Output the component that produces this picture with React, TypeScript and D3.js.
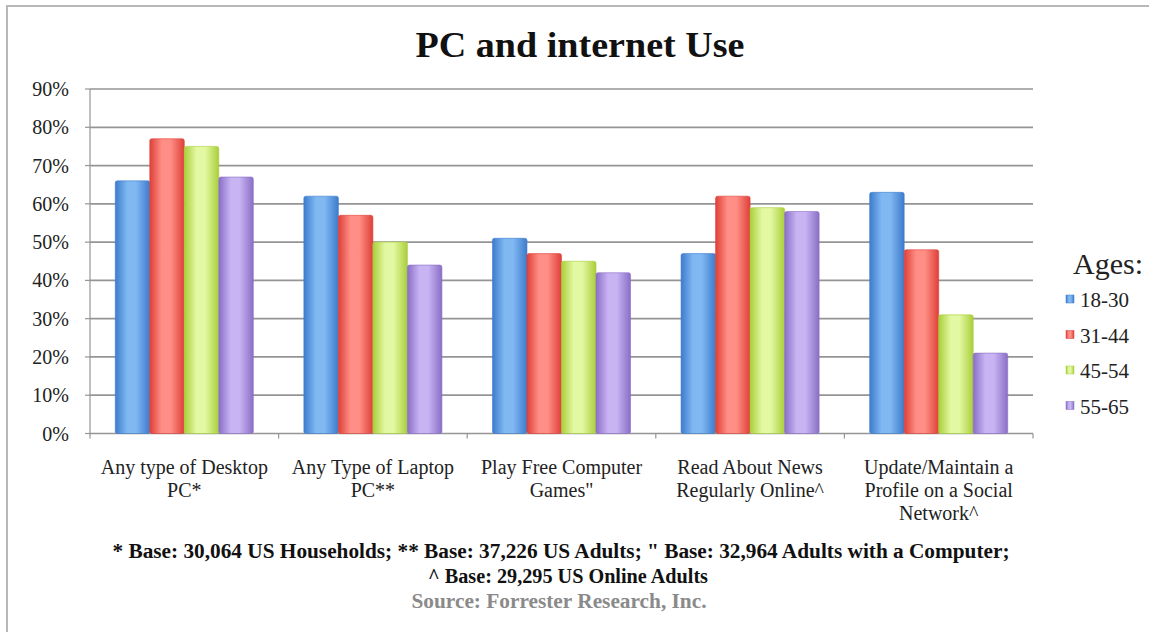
import React from "react";
import * as d3 from "d3";

const categories: string[][] = [
  ["Any type of Desktop", "PC*"],
  ["Any Type of Laptop", "PC**"],
  ["Play Free Computer", "Games\""],
  ["Read About News", "Regularly Online^"],
  ["Update/Maintain a", "Profile on a Social", "Network^"],
];
const seriesNames = ["18-30", "31-44", "45-54", "55-65"];
const s1830 = [66, 62, 51, 47, 63];
const s3144 = [77, 57, 47, 62, 48];
const s4554 = [75, 50, 45, 59, 31];
const s5565 = [67, 44, 42, 58, 21];
const yTicks = [0, 10, 20, 30, 40, 50, 60, 70, 80, 90];
const footnotes = [
  "* Base: 30,064 US Households; ** Base: 37,226 US Adults; \" Base: 32,964 Adults with a Computer;",
  "^ Base: 29,295 US Online Adults",
];
const sourceText = "Source: Forrester Research, Inc.";

const seriesValues = [s1830, s3144, s4554, s5565];
const colors = [
  { edge: "#3d7ccd", mid: "#80b8f2" },
  { edge: "#de4038", mid: "#ff8f86" },
  { edge: "#a9cf3a", mid: "#e3f8a2" },
  { edge: "#8a6ec6", mid: "#c8b4f3" },
];

const W = 1149;
const H = 632;
const left = 90;
const right = 1033;
const top = 89;
const bottom = 433.5;
const serif = "'Liberation Serif', 'Times New Roman', serif";

export default function App() {
  const x0 = d3
    .scaleBand<number>()
    .domain(categories.map((_, i) => i))
    .range([left, right])
    .paddingInner(0.268)
    .paddingOuter(0.134);
  const x1 = d3
    .scaleBand<number>()
    .domain(seriesNames.map((_, i) => i))
    .range([0, x0.bandwidth()]);
  const y = d3.scaleLinear().domain([0, 90]).range([bottom, top]);
  const step = x0.step();
  const boundaries = d3.range(categories.length + 1).map((i) => left + i * step);

  return (
    <svg
      width={W}
      height={H}
      style={{ position: "absolute", left: 0, top: 0, background: "#fff" }}
    >
      <defs>
        {colors.map((c, i) => (
          <linearGradient key={i} id={`g${i}`} x1="0" x2="1" y1="0" y2="0">
            <stop offset="0%" stopColor={c.edge} />
            <stop offset="35%" stopColor={c.mid} />
            <stop offset="60%" stopColor={c.mid} />
            <stop offset="100%" stopColor={c.edge} />
          </linearGradient>
        ))}
      </defs>
      <rect x={7} y={6} width={W + 20} height={H + 20} fill="#fff" stroke="#b8b8b8" strokeWidth={2} />

      <text
        x={580}
        y={57}
        textAnchor="middle"
        fontFamily={serif}
        fontWeight="bold"
        fontSize={35}
        textLength={329}
        lengthAdjust="spacingAndGlyphs"
        fill="#111"
      >
        PC and internet Use
      </text>

      {yTicks.map((t) => (
        <g key={t}>
          {t > 0 && (
            <line x1={left} x2={right} y1={y(t)} y2={y(t)} stroke="#959595" strokeWidth={1.7} />
          )}
          <line x1={left - 5} x2={left} y1={y(t)} y2={y(t)} stroke="#959595" strokeWidth={1.2} />
          <text
            x={69}
            y={y(t)}
            dy="0.35em"
            textAnchor="end"
            fontFamily={serif}
            fontSize={20}
            fill="#222"
          >
            {t}%
          </text>
        </g>
      ))}
      <line x1={left} x2={left} y1={top} y2={bottom} stroke="#959595" strokeWidth={1.2} />
      <line x1={left} x2={right} y1={bottom} y2={bottom} stroke="#959595" strokeWidth={1.7} />
      {boundaries.map((bx, i) => (
        <line key={i} x1={bx} x2={bx} y1={bottom} y2={bottom + 5} stroke="#959595" strokeWidth={1.2} />
      ))}

      {categories.map((cat, ci) => (
        <g key={ci} transform={`translate(${x0(ci)},0)`}>
          {seriesValues.map((vals, si) => (
            <rect
              key={si}
              x={x1(si)}
              y={y(vals[ci])}
              width={x1.bandwidth()}
              height={bottom - y(vals[ci])}
              fill={`url(#g${si})`}
              rx={2}
              stroke={colors[si].edge}
              strokeWidth={0.6}
            />
          ))}
        </g>
      ))}

      {categories.map((lines, ci) => (
        <text
          key={ci}
          x={(x0(ci) as number) + x0.bandwidth() / 2}
          y={474}
          textAnchor="middle"
          fontFamily={serif}
          fontSize={20}
          fill="#222"
        >
          {lines.map((l, li) => (
            <tspan key={li} x={(x0(ci) as number) + x0.bandwidth() / 2} dy={li === 0 ? 0 : 23}>
              {l}
            </tspan>
          ))}
        </text>
      ))}

      <text x={1108} y={274} textAnchor="middle" fontFamily={serif} fontSize={30} fill="#222">
        Ages:
      </text>
      {seriesNames.map((n, si) => (
        <g key={n} transform={`translate(0,${300 + si * 35.5})`}>
          <rect x={1066} y={-5} width={8} height={8} fill={`url(#g${si})`} stroke={colors[si].edge} strokeWidth={0.5} />
          <text x={1080} y={0} dy="0.35em" fontFamily={serif} fontSize={21} fill="#222">
            {n}
          </text>
        </g>
      ))}

      <text
        x={561}
        y={558}
        textAnchor="middle"
        fontFamily={serif}
        fontWeight="bold"
        fontSize={20.5}
        textLength={897}
        lengthAdjust="spacingAndGlyphs"
        fill="#111"
      >
        {footnotes[0]}
      </text>
      <text
        x={568}
        y={583}
        textAnchor="middle"
        fontFamily={serif}
        fontWeight="bold"
        fontSize={20.5}
        textLength={280}
        lengthAdjust="spacingAndGlyphs"
        fill="#111"
      >
        {footnotes[1]}
      </text>
      <text
        x={559}
        y={608}
        textAnchor="middle"
        fontFamily={serif}
        fontWeight="bold"
        fontSize={20.5}
        textLength={295}
        lengthAdjust="spacingAndGlyphs"
        fill="#8a8a8a"
      >
        {sourceText}
      </text>
    </svg>
  );
}
